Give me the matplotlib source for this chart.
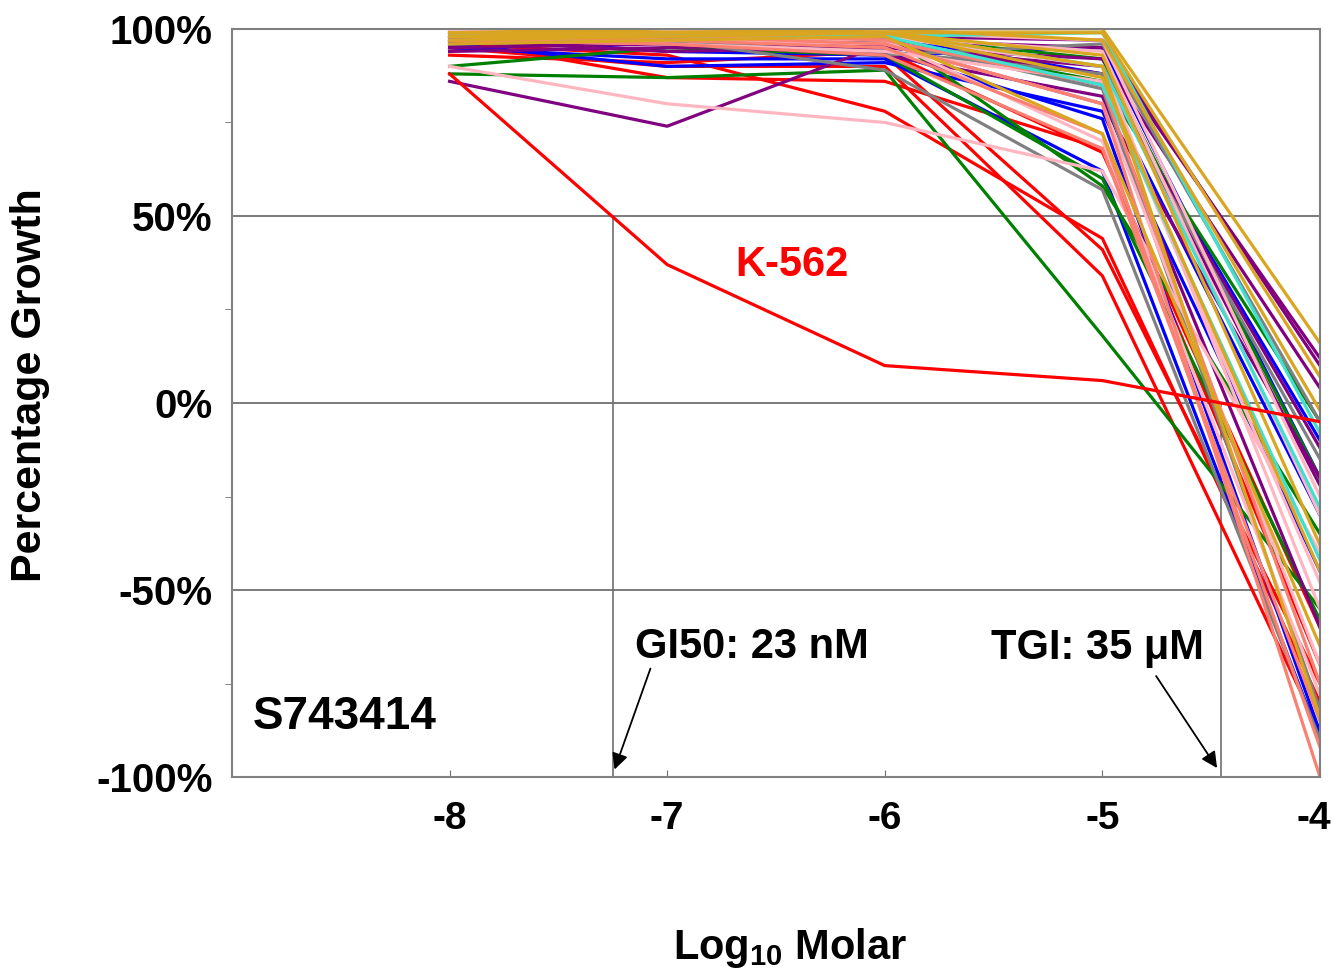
import matplotlib
matplotlib.use("Agg")
import matplotlib.pyplot as plt
import matplotlib.transforms as mtransforms
from matplotlib.ticker import FixedLocator

plt.rcParams['font.family'] = ['Liberation Sans', 'DejaVu Sans']
plt.rcParams['font.weight'] = 'bold'
plt.rcParams['mathtext.fontset'] = 'custom'
plt.rcParams['mathtext.rm'] = 'Liberation Sans:bold'
plt.rcParams['mathtext.default'] = 'rm'

# log10 molar concentrations
conc = [-8, -7, -6, -5, -4]

# percentage growth per cell line, grouped by line colour
k562 = [88, 37, 10, 6, -5]
red_lines = [
    [97, 87, 86, 68, -70],
    [96, 93, 78, 44, -80],
    [95, 90, 90, 34, -88],
    [99, 97, 93, 41, -75],
    [93, 91, 94, 67, -60],
]
blue_lines = [
    [98, 94, 93, 95, -20],
    [96, 90, 91, 78, -45],
    [97, 97, 94, 76, -88],
    [95, 92, 92, 62, -90],
    [99, 99, 98, 88, -10],
    [98, 96, 97, 85, -30],
]
green_lines = [
    [90, 95, 93, 60, -58],
    [88, 87, 89, 18, -55],
    [99, 99, 99, 58, -35],
    [97, 98, 97, 86, -5],
    [98, 97, 98, 92, -20],
]
purple_lines = [
    [86, 74, 96, 80, -20],
    [97, 96, 98, 97, 10],
    [96, 97, 95, 92, 4],
    [94, 95, 96, 88, -12],
    [97, 94, 95, 90, -22],
    [98, 99, 97, 95, 12],
    [95, 96, 93, 82, -60],
]
gray_lines = [
    [98, 97, 89, 57, -90],
    [99, 98, 97, 84, -82],
    [96, 97, 93, 96, -5],
    [97, 96, 94, 88, -15],
]
pink_lines = [
    [90, 80, 75, 62, -40],
    [99, 99, 98, 94, -30],
    [100, 99, 98, 90, -55],
    [98, 97, 96, 80, -70],
    [99, 98, 97, 70, -78],
    [97, 96, 94, 86, -48],
    [100, 100, 99, 97, -25],
]
salmon_lines = [
    [98, 97, 95, 72, -92],
    [99, 98, 96, 80, -100],
    [97, 96, 93, 68, -85],
    [99, 99, 97, 85, -75],
]
turq_lines = [
    [99, 99, 98, 85, -42],
    [98, 98, 99, 90, -28],
    [99, 99, 98, 99, -8],
]
gold_lines = [
    [99, 99, 100, 100, 16],
    [98, 99, 99, 99, 7],
    [99, 100, 100, 97, -2],
    [97, 98, 99, 93, -38],
    [98, 98, 99, 90, -84],
    [96, 97, 98, 72, -65],
    [99, 99, 99, 87, -45],
]

gi50_x = -7.25
tgi_x = -4.456

groups = [
    (red_lines, '#ff0000'),
    (blue_lines, '#0000ff'),
    (green_lines, '#008000'),
    (purple_lines, '#800080'),
    (gray_lines, '#808080'),
    (pink_lines, '#ffb6c1'),
    (salmon_lines, '#fa8072'),
    (turq_lines, '#40e0d0'),
    (gold_lines, '#daa520'),
]

fig = plt.figure(figsize=(13.34, 9.69), dpi=100)
ax = fig.add_axes([0.1739, 0.1981, 0.8156, 0.772])

for yv in [50, 0, -50]:
    ax.axhline(yv, color='#707070', lw=1.3, zorder=1)
ax.plot([gi50_x, gi50_x], [50, -100], color='#707070', lw=1.2, zorder=1)
ax.plot([tgi_x, tgi_x], [0, -100], color='#707070', lw=1.2, zorder=1)

for lines, col in groups:
    for vals in lines:
        ax.plot(conc, vals, color=col, lw=2.3, zorder=2)
ax.plot(conc, k562, color='#ff0000', lw=2.3, zorder=3)

ax.set_xlim(-9, -4)
ax.set_ylim(-100, 100)
ax.set_xticks(conc)
ax.set_xticklabels([str(c) for c in conc], fontsize=28, fontweight='bold')
ax.set_yticks([-100, -50, 0, 50, 100])
ax.set_yticklabels(['-100%', '-50%', '0%', '50%', '100%'], fontsize=29, fontweight='bold')
ax.yaxis.set_minor_locator(FixedLocator([-75, -25, 25, 75]))
ax.tick_params(axis='y', which='major', length=0, pad=14)
ax.tick_params(axis='y', which='minor', length=5, direction='out', color='#707070')
ax.tick_params(axis='x', which='major', length=5, direction='in', color='#707070', pad=17)

# nudge the last x label so it stays inside the figure
last = ax.get_xticklabels()[-1]
last.set_transform(last.get_transform() +
                   mtransforms.ScaledTranslation(-6 / 100, 0, fig.dpi_scale_trans))

for sp in ax.spines.values():
    sp.set_color('#808080')
    sp.set_linewidth(1.5)

fig.text(0.0225, 0.603, 'Percentage Growth', fontsize=31, fontweight='bold',
         rotation=90, ha='center', va='center')
fig.text(0.592, 0.022, 'Log$_{10}$ Molar', fontsize=30, fontweight='bold',
         ha='center', va='center')

ax.text(-6.425, 37, 'K-562', color='#ff0000', fontsize=30, fontweight='bold',
        ha='center', va='center')
ax.text(-8.904, -84, 'S743414', fontsize=33, fontweight='bold', ha='left', va='center')

ax.text(-7.146, -65.2, 'GI50: 23 nM', fontsize=30, fontweight='bold',
        ha='left', va='center')
ax.annotate('', xy=(-7.242, -98), xytext=(-7.077, -71),
            arrowprops=dict(arrowstyle='-|>', color='black', lw=1.3,
                            shrinkA=0, shrinkB=0, mutation_scale=24))
ax.text(-5.024, -65.5, 'TGI: 35 \u03bcM', fontsize=30, fontweight='bold',
        ha='center', va='center')
ax.annotate('', xy=(-4.473, -97.6), xytext=(-4.753, -73),
            arrowprops=dict(arrowstyle='-|>', color='black', lw=1.3,
                            shrinkA=0, shrinkB=0, mutation_scale=24))

fig.savefig('out.png', dpi=100)
